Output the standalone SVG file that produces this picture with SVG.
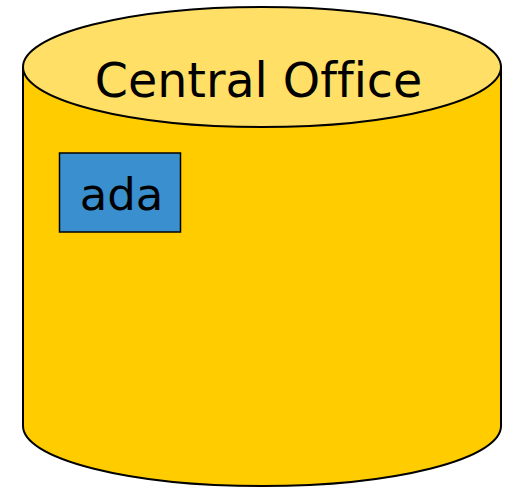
<svg xmlns="http://www.w3.org/2000/svg" width="510" height="487" viewBox="0 0 510 487">
  <style>
    .body { fill: #FFCC00; stroke: #000; stroke-width: 2; }
    .lid { fill: #FFDF66; stroke: #000; stroke-width: 2; }
    .box { fill: #3A8FCF; stroke: #000; stroke-width: 1.5; }
    .label { font-family: "DejaVu Sans", Verdana, sans-serif; fill: #000; text-anchor: middle; font-variant-ligatures: none; }
  </style>
  <g id="central-office">
    <path class="body" d="M23,67 L23,426 A239,60 0 0 0 501,426 L501,67 Z"/>
    <ellipse class="lid" cx="262" cy="67" rx="239" ry="60"/>
    <text class="label" x="258.5" y="97" font-size="47.5">Central Office</text>
  </g>
  <g id="ada">
    <rect class="box" x="59.5" y="153" width="121" height="79"/>
    <text class="label" x="121.5" y="210" font-size="45">ada</text>
  </g>
  <g id="connectors"/>
</svg>
